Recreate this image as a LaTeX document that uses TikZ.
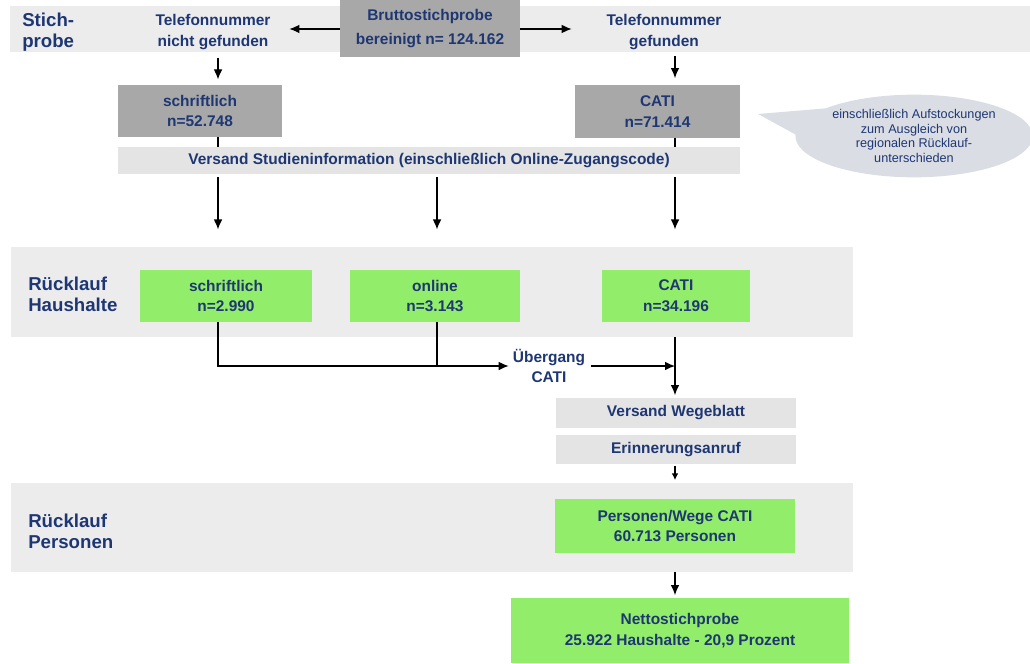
\documentclass[tikz,border=0pt]{standalone}
\usepackage{fontspec}
\setmainfont{Liberation Sans}
\usetikzlibrary{arrows.meta, shapes.callouts}

\definecolor{textblue}{RGB}{30,55,115}
\definecolor{bandgray}{RGB}{236,236,236}
\definecolor{lightbox}{RGB}{228,228,228}
\definecolor{darkbox}{RGB}{168,168,168}
\definecolor{boxgreen}{RGB}{146,238,106}
\definecolor{notegray}{RGB}{218,222,228}

\tikzset{
  band/.style={fill=bandgray, inner sep=0pt},
  boxtext/.style={text=textblue, align=center, inner sep=0pt,
    font=\bfseries\fontsize{11.6}{15.5}\selectfont},
  graybox/.style={boxtext, fill=darkbox},
  lightgraybox/.style={boxtext, fill=lightbox},
  greenbox/.style={boxtext, fill=boxgreen},
  rowlabel/.style={text=textblue, align=left, anchor=west, inner sep=0pt,
    font=\bfseries\fontsize{14}{16}\selectfont},
  arrow/.style={-{Latex[length=7.5pt,width=6.5pt]}, line width=0.9pt},
  smallarrow/.style={-{Latex[length=5pt,width=5pt]}, line width=0.9pt},
  joint/.style={line width=0.9pt},
}

\begin{document}
\begin{tikzpicture}[x=0.75pt, y=-0.75pt]
        \useasboundingbox (0,0) rectangle (1030,663);

        % columns of the flow
        \coordinate (col1) at (218,0);
        \coordinate (col2) at (437,0);
        \coordinate (col3) at (675,0);

        % row bands
        \node[band, minimum width=765pt, minimum height=34.5pt] (stich) at (520,29) {};
        \node[band, minimum width=631.5pt, minimum height=67.5pt] (hh) at (432,292) {};
        \node[band, minimum width=631.5pt, minimum height=66.75pt] (pp) at (432,527.5) {};

        \node[rowlabel] (lstich) at (22,32) {Stich-\\probe};
        \node[rowlabel] (lhh) at (28,294) {Rücklauf\\Haushalte};
        \node[rowlabel] (lpp) at (28,531) {Rücklauf\\Personen};

        % sample
        \node[graybox, font=\bfseries\fontsize{11.6}{18}\selectfont,
              minimum width=135pt, minimum height=42.75pt] (brutto) at (430,29)
              {Bruttostichprobe\\bereinigt n= 124.162};
        \node[boxtext] (telnicht) at (213,32) {Telefonnummer\\nicht gefunden};
        \node[boxtext] (telgef) at (664,32) {Telefonnummer\\gefunden};

        \node[graybox, minimum width=123pt, minimum height=39pt] (schrG) at (200,111)
              {schriftlich\\n=52.748};
        \node[graybox, minimum width=123.75pt, minimum height=39.75pt] (catiG) at (657.5,111.5)
              {CATI\\n=71.414};
        \node[lightgraybox, minimum width=466.5pt, minimum height=20.25pt] (versand) at (429,160.5)
              {Versand Studieninformation (einschließlich Online-Zugangscode)};

        \node[ellipse callout, fill=notegray, callout absolute pointer={(758,114)},
              callout pointer arc=40, minimum width=178pt, minimum height=62pt,
              inner sep=0pt, text=textblue, align=center,
              font=\fontsize{9.5}{11}\selectfont] (note) at (914,136)
              {einschließlich Aufstockungen\\zum Ausgleich von\\regionalen Rücklauf-\\unterschieden};

        % returns households
        \node[greenbox, minimum width=129pt, minimum height=39pt] (gschr) at (226,296)
              {schriftlich\\n=2.990};
        \node[greenbox, minimum width=127.5pt, minimum height=39pt] (gonl) at (435,296)
              {online\\n=3.143};
        \node[greenbox, minimum width=111pt, minimum height=39pt] (gcati) at (676,296)
              {CATI\\n=34.196};
        \node[boxtext] (ueb) at (549,366) {Übergang\\CATI};

        \node[lightgraybox, minimum width=180pt, minimum height=22.5pt] (wege) at (676,413)
              {Versand Wegeblatt};
        \node[lightgraybox, minimum width=180pt, minimum height=21.75pt] (erin) at (676,449.5)
              {Erinnerungsanruf};

        % returns persons
        \node[greenbox, minimum width=180pt, minimum height=40.5pt] (pers) at (675,526)
              {Personen/Wege CATI\\60.713 Personen};
        \node[greenbox, minimum width=253.5pt, minimum height=48.75pt] (netto) at (680,630.5)
              {Nettostichprobe\\25.922 Haushalte - 20,9 Prozent};

        % connectors
        \draw[arrow, shorten >=14pt] (brutto.west) -- (telnicht.east |- brutto.west);
        \draw[arrow, shorten >=26pt] (brutto.east) -- (telgef.west |- brutto.east);

        \draw[arrow, shorten <=4pt, shorten >=4pt] (stich.south -| col1) -- (schrG.north -| col1);
        \draw[arrow, shorten <=3pt, shorten >=5pt] (stich.south -| col3) -- (catiG.north -| col3);
        \draw[joint] (schrG.south -| col1) -- (versand.north -| col1);
        \draw[joint] (catiG.south -| col3) -- (versand.north -| col3);

        \draw[arrow, shorten <=2pt, shorten >=13pt] (versand.south -| col1) -- (hh.north -| col1);
        \draw[arrow, shorten <=2pt, shorten >=13pt] (versand.south -| col2) -- (hh.north -| col2);
        \draw[arrow, shorten <=2pt, shorten >=13pt] (versand.south -| col3) -- (hh.north -| col3);

        \draw[arrow, shorten >=3pt] (gschr.south -| col1) |- (ueb.west);
        \draw[joint] (gonl.south -| col2) -- (col2 |- ueb.west);
        \draw[arrow, shorten <=4pt] (ueb.east) -- (ueb.east -| col3);

        \draw[arrow, shorten >=2pt] (hh.south -| col3) -- (wege.north -| col3);
        \draw[smallarrow, shorten <=1pt, shorten >=2pt] (erin.south -| col3) -- (pp.north -| col3);
        \draw[arrow, shorten >=2pt] (pp.south -| col3) -- (netto.north -| col3);
    \end{tikzpicture}
\end{document}
